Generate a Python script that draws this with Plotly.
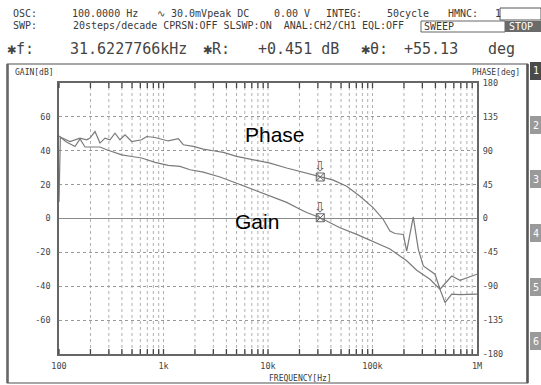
import math
import plotly.graph_objects as go

# ---------------- data ----------------
gain_freq = [100, 116.7, 142.3, 158.8, 177.3, 246.8, 286, 398, 497, 618, 829, 1111, 1438, 1794,
             2403, 3472, 5012, 7228, 10450, 15090, 20240, 23450, 31623, 48860, 70650, 101800,
             147000, 212400, 264900, 354800, 442600, 494300, 572800, 687300, 1000000]
gain_db = [48.8, 45.3, 42.5, 47.0, 42.2, 42.2, 40.6, 37.6, 36.6, 35.7, 33.1, 31.4, 30.8, 28.8,
           27.4, 24.5, 20.8, 17.0, 13.5, 9.5, 5.5, 3.5, 0.45, -5.5, -9.4, -13.5,
           -18.0, -25.0, -30.5, -35.9, -41.8, -49.6, -44.7, -45.0, -44.7]

phase_freq = [100, 103, 127.4, 142.3, 158.8, 184, 198, 221, 246.8, 275.6, 307.6, 343.4, 383.4,
              428.2, 496.6, 618.5, 690.6, 829, 1033, 1111, 1386, 1546, 1928, 2403, 2998, 3736,
              5012, 7228, 10450, 15090, 20240, 31623, 42180, 56640, 75880, 101800, 126800,
              147000, 164100, 197200, 212400, 245600, 274400, 306400, 396300, 442600, 572800,
              687300, 1000000]
phase_deg = [22, 108, 102.3, 104.6, 106.8, 104.6, 106.8, 115.5, 100.2, 106.8, 104.6, 113.4, 104.6,
             111.2, 102.3, 104.6, 108.9, 107.6, 104.6, 103, 106, 98, 95.7, 92.2, 90, 87.8,
             82.5, 78.1, 73.5, 67.1, 62.6, 55.13, 51, 42.8, 29.5, 14.2, -1.3,
             -16.8, -19.9, -21.2, -43.3, 2.2, -41, -63, -74, -94, -76.4,
             -82, -74]

marker_freq = 31622.7766
marker_gain = 0.451
marker_phase = 55.13

x_tickvals = [100, 1000, 10000, 100000, 1000000]
x_ticktext = ["100", "1k", "10k", "100k", "1M"]
gain_ticks = [-60, -40, -20, 0, 20, 40, 60]
phase_ticks = [-180, -135, -90, -45, 0, 45, 90, 135, 180]

# ---------------- geometry ----------------
WIDTH, HEIGHT = 541, 385
L, R, T, B = 59, 477, 83, 354
PW, PH = R - L, B - T


def px(x):
    return (x - L) / PW


def py(y):
    return (B - y) / PH


MONO = "DejaVu Sans Mono"
TXT = "#3a3a3a"
CURVE = "#7a7a7a"

fig = go.Figure()

fig.add_trace(go.Scatter(x=gain_freq, y=gain_db, mode="lines",
                         line=dict(color=CURVE, width=1.2), yaxis="y", showlegend=False))
fig.add_trace(go.Scatter(x=phase_freq, y=phase_deg, mode="lines",
                         line=dict(color=CURVE, width=1.2), yaxis="y2", showlegend=False))
fig.add_trace(go.Scatter(x=[marker_freq], y=[marker_gain], mode="markers",
                         marker=dict(symbol="square-x-open", size=8, color="#666",
                                     line=dict(width=1, color="#666")),
                         yaxis="y", showlegend=False))
fig.add_trace(go.Scatter(x=[marker_freq], y=[marker_phase], mode="markers",
                         marker=dict(symbol="square-x-open", size=8, color="#666",
                                     line=dict(width=1, color="#666")),
                         yaxis="y2", showlegend=False))

shapes = []
# outer panel
shapes.append(dict(type="rect", xref="paper", yref="paper",
                   x0=px(7.5), x1=px(527.5), y0=py(383), y1=py(64),
                   line=dict(color="#8a8a8a", width=1.5), fillcolor="rgba(0,0,0,0)", layer="below"))
shapes.append(dict(type="line", xref="paper", yref="paper",
                   x0=px(7.5), x1=px(7.5), y0=py(383), y1=py(64),
                   line=dict(color="#666", width=2.5)))
shapes.append(dict(type="line", xref="paper", yref="paper",
                   x0=px(527.5), x1=px(527.5), y0=py(383), y1=py(64),
                   line=dict(color="#555", width=2.5)))

# vertical grid + inside ticks
for k in range(2, 6):
    for m in range(1, 10):
        f = m * 10 ** k
        xf = (math.log10(f) - 2) / 4
        if 0 < xf < 1:
            shapes.append(dict(type="line", xref="paper", yref="paper", x0=xf, x1=xf,
                               y0=0, y1=1, line=dict(color="#b0b0b0", width=1, dash="dot"),
                               layer="below"))
        shapes.append(dict(type="line", xref="paper", yref="paper", x0=xf, x1=xf,
                           y0=0, y1=5 / PH, line=dict(color="#444", width=1.3)))
        shapes.append(dict(type="line", xref="paper", yref="paper", x0=xf, x1=xf,
                           y0=1, y1=1 - 5 / PH, line=dict(color="#444", width=1.3)))

# header boxes
shapes.append(dict(type="rect", xref="paper", yref="paper", x0=px(500), x1=px(541),
                   y0=py(20), y1=py(8), line=dict(color="#555", width=1), fillcolor="white"))
shapes.append(dict(type="rect", xref="paper", yref="paper", x0=px(421), x1=px(505),
                   y0=py(32), y1=py(21), line=dict(color="#666", width=1), fillcolor="white"))
shapes.append(dict(type="rect", xref="paper", yref="paper", x0=px(505), x1=px(541),
                   y0=py(32), y1=py(21), line=dict(color="#666", width=0), fillcolor="#6a6a6a"))

annotations = []


def txt(x, y, s, size=10, color=TXT, family=MONO, xanchor="left", **kw):
    annotations.append(dict(xref="paper", yref="paper", x=px(x), y=py(y), text=s,
                            showarrow=False, xanchor=xanchor, yanchor="middle",
                            font=dict(family=family, size=size, color=color), **kw))


# header row 1
for xx, s in [(11, "OSC:"), (70, "100.0000 Hz"), (155, "∿ 30.0mVpeak DC"), (272, "0.00 V"),
              (324, "INTEG:"), (385, "50cycle"), (446, "HMNC:"), (493, "1")]:
    txt(xx, 14, s, size=10)
# header row 2
txt(11, 26, "SWP:", size=10)
txt(71, 26, "20steps/decade CPRSN:OFF SLSWP:ON  ANAL:CH2/CH1 EQL:OFF", size=10)
txt(422, 26.5, "SWEEP", size=10)
txt(507, 26.5, "STOP", size=10, color="white")
# header row 3
for xx, s in [(5, "✱f:"), (68, "31.6227766kHz"), (201, "✱R:"), (256, "+0.451 dB"),
              (359, "✱θ:"), (402, "+55.13"), (486, "deg")]:
    txt(xx, 49, s, size=15, color="#444")

# panel labels
txt(13, 72, "GAIN[dB]", size=8)
txt(522, 72, "PHASE[deg]", size=8, xanchor="right")
txt(300, 378, "FREQUENCY[Hz]", size=8, xanchor="center")

# big labels
txt(243, 134, "Phase", size=21, color="black", family="Liberation Sans, Arial")
txt(233, 221, "Gain", size=21, color="black", family="Liberation Sans, Arial")

# tabs on the right
tab_centers = [71, 125, 179, 233, 287, 341]
for i, cy in enumerate(tab_centers):
    col = "#4a4a4a" if i == 0 else "#9a9a9a"
    shapes.append(dict(type="rect", xref="paper", yref="paper", x0=px(530), x1=px(541),
                       y0=py(cy + 9), y1=py(cy - 9), line=dict(width=0), fillcolor=col))
    txt(535.5, cy, str(i + 1), size=10, color="white", xanchor="center")

# marker arrows
for yref, val in [("y", marker_gain), ("y2", marker_phase)]:
    annotations.append(dict(xref="x", yref=yref, x=math.log10(marker_freq), y=val,
                            text="⇩", showarrow=False, yshift=11, xanchor="center",
                            yanchor="middle", font=dict(size=14, color="#555", family="DejaVu Sans")))

axis_common = dict(showline=True, linecolor="#666", linewidth=1.5, mirror=True, zeroline=False)

fig.update_layout(
    width=WIDTH, height=HEIGHT, autosize=False,
    margin=dict(l=L, r=WIDTH - R, t=T, b=HEIGHT - B, pad=0),
    paper_bgcolor="white", plot_bgcolor="white",
    showlegend=False,
    xaxis=dict(type="log", range=[2, 6], tickvals=x_tickvals, ticktext=x_ticktext,
               showgrid=False, ticks="outside", ticklen=3, tickcolor="rgba(0,0,0,0)",
               tickfont=dict(family=MONO, size=8.5, color="#444"), **axis_common),
    yaxis=dict(range=[-80, 80], tickvals=gain_ticks, ticktext=[str(v) for v in gain_ticks],
               showgrid=True, gridcolor="#999", griddash="dot", gridwidth=1,
               ticks="outside", ticklen=5, tickcolor="rgba(0,0,0,0)",
               tickfont=dict(family=MONO, size=8.5, color="#444"),
               showline=True, linecolor="#666", linewidth=1.5, mirror=True,
               zeroline=True, zerolinecolor="#8a8a8a", zerolinewidth=1),
    yaxis2=dict(range=[-180, 180], tickvals=phase_ticks, ticktext=[str(v) for v in phase_ticks],
                overlaying="y", side="right", showgrid=False, zeroline=False,
                ticks="outside", ticklen=3, tickcolor="rgba(0,0,0,0)",
                tickfont=dict(family=MONO, size=8.5, color="#444")),
    shapes=shapes,
    annotations=annotations,
)

fig.write_html("out.html", config={"displayModeBar": False},
               post_script="document.body.style.margin='0';document.body.style.padding='0';")
